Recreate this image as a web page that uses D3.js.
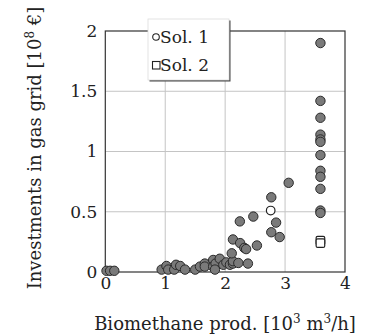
<!DOCTYPE html>
<html>
<head>
<meta charset="utf-8">
<script src="https://cdn.jsdelivr.net/npm/d3@7"></script>
<style>
  body { margin: 0; background: #fff; }
  text { font-family: "DejaVu Serif", "Liberation Serif", serif; fill: #222; }
</style>
</head>
<body>
<script>
// all evaluated configurations (grey dots)
var allX = [0.02, 0.08, 0.15,
            0.94, 1.02, 1.05, 1.15, 1.18, 1.25, 1.33,
            1.50, 1.58, 1.66, 1.66, 1.80, 1.80, 1.84, 1.83, 1.91, 1.97, 2.02, 2.08, 2.13, 2.13, 2.22, 2.38, 2.11,
            2.13, 2.25, 2.32, 2.35, 2.245, 2.47, 2.53, 2.77, 2.85, 2.77, 2.91, 3.06,
            3.59, 3.59, 3.59, 3.59, 3.59, 3.59, 3.59, 3.59, 3.59, 3.59, 3.59, 3.59];
var allY = [0.01, 0.01, 0.01,
            0.02, 0.05, 0.02, 0.02, 0.06, 0.05, 0.02,
            0.02, 0.045, 0.07, 0.045, 0.10, 0.045, 0.07, 0.02, 0.11, 0.06, 0.08, 0.06, 0.07, 0.09, 0.075, 0.07, 0.155,
            0.27, 0.24, 0.20, 0.19, 0.42, 0.46, 0.22, 0.62, 0.41, 0.33, 0.29, 0.74,
            1.90, 1.42, 1.28, 1.14, 1.10, 1.08, 0.97, 0.84, 0.79, 0.69, 0.51, 0.49];
// Sol. 1 and Sol. 2
var sol1X = [2.76], sol1Y = [0.51];
var sol2X = [3.59, 3.59], sol2Y = [0.26, 0.24];

var xTicks = [0, 1, 2, 3, 4];
var yTicks = [0, 0.5, 1, 1.5, 2];
var yTickLabels = ["0", "0.5", "1", "1.5", "2"];
var legendLabels = ["Sol. 1", "Sol. 2"];

var width = 365, height = 336;
var svg = d3.select("body").append("svg")
    .attr("width", width)
    .attr("height", height);

var x = d3.scaleLinear().domain([0, 4]).range([105.3, 345]);
var y = d3.scaleLinear().domain([0, 2]).range([272, 31]);

// grid
svg.append("g").selectAll("line.gx")
    .data(xTicks.slice(1, -1)).enter().append("line")
    .attr("x1", function(d){ return x(d); }).attr("x2", function(d){ return x(d); })
    .attr("y1", y(0)).attr("y2", y(2))
    .style("stroke", "#c4c4c4").style("stroke-width", 1);
svg.append("g").selectAll("line.gy")
    .data(yTicks.slice(1, -1)).enter().append("line")
    .attr("x1", x(0)).attr("x2", x(4))
    .attr("y1", function(d){ return y(d); }).attr("y2", function(d){ return y(d); })
    .style("stroke", "#c4c4c4").style("stroke-width", 1);

// frame
svg.append("rect")
    .attr("x", x(0)).attr("y", y(2))
    .attr("width", x(4) - x(0)).attr("height", y(0) - y(2))
    .style("fill", "none").style("stroke", "#333").style("stroke-width", 1.2);

// axes (labels only)
var yAxis = svg.append("g")
    .attr("transform", "translate(" + (x(0) - 8) + ",0)")
    .call(d3.axisLeft(y).tickValues(yTicks).tickSize(0)
          .tickFormat(function(d, i){ return yTickLabels[i]; }));
yAxis.select(".domain").remove();
yAxis.selectAll("text").attr("x", 0).style("font-size", "17px")
    .style("font-family", "DejaVu Serif").style("fill", "#222");

var xAxis = svg.append("g")
    .attr("transform", "translate(0," + (y(0) + 5) + ")")
    .call(d3.axisBottom(x).tickValues(xTicks).tickSize(0).tickFormat(d3.format("d")));
xAxis.select(".domain").remove();
xAxis.selectAll("text").attr("y", 0).style("font-size", "17px")
    .style("font-family", "DejaVu Serif").style("fill", "#222");

// axis titles
var xt = svg.append("text")
    .attr("x", 225).attr("y", 330)
    .attr("text-anchor", "middle")
    .style("font-size", "18px");
xt.append("tspan").text("Biomethane prod. [10");
xt.append("tspan").attr("dy", -7).style("font-size", "12px").text("3");
xt.append("tspan").attr("dy", 7).text(" m");
xt.append("tspan").attr("dy", -7).style("font-size", "12px").text("3");
xt.append("tspan").attr("dy", 7).text("/h]");

var yt = svg.append("text")
    .attr("transform", "translate(41,148) rotate(-90)")
    .attr("text-anchor", "middle")
    .style("font-size", "18px");
yt.append("tspan").text("Investments in gas grid [10");
yt.append("tspan").attr("dy", -7).style("font-size", "12px").text("8");
yt.append("tspan").attr("dy", 7).text(" \u20ac]");

// points
var pts = allX.map(function(d, i){ return {x: d, y: allY[i]}; });
svg.append("g").selectAll("circle")
    .data(pts).enter().append("circle")
    .attr("cx", function(d){ return x(d.x); })
    .attr("cy", function(d){ return y(d.y); })
    .attr("r", 4.7)
    .style("fill", "#7a7a7a").style("stroke", "#2a2a2a").style("stroke-width", 1);

svg.append("g").selectAll("circle")
    .data(sol1X.map(function(d, i){ return {x: d, y: sol1Y[i]}; })).enter().append("circle")
    .attr("cx", function(d){ return x(d.x); })
    .attr("cy", function(d){ return y(d.y); })
    .attr("r", 4.3)
    .style("fill", "#fff").style("stroke", "#222").style("stroke-width", 1.2);

svg.append("g").selectAll("rect")
    .data(sol2X.map(function(d, i){ return {x: d, y: sol2Y[i]}; })).enter().append("rect")
    .attr("x", function(d){ return x(d.x) - 4.3; })
    .attr("y", function(d){ return y(d.y) - 4.3; })
    .attr("width", 8.6).attr("height", 8.6).attr("rx", 1.5)
    .style("fill", "#fff").style("stroke", "#222").style("stroke-width", 1.2);

// legend
var lg = svg.append("g").attr("transform", "translate(148,19)");
lg.append("rect").attr("x", 1.5).attr("y", 1.5).attr("width", 81).attr("height", 61)
    .style("fill", "#444");
lg.append("rect").attr("width", 81).attr("height", 61)
    .style("fill", "#fff").style("stroke", "#ddd").style("stroke-width", 0.8);
lg.append("circle").attr("cx", 8).attr("cy", 18).attr("r", 3.3)
    .style("fill", "#fff").style("stroke", "#222").style("stroke-width", 1.1);
lg.append("rect").attr("x", 4.5).attr("y", 42.5).attr("width", 7.5).attr("height", 7.5)
    .style("fill", "#fff").style("stroke", "#222").style("stroke-width", 1.1);
lg.selectAll("text.lab").data(legendLabels).enter().append("text")
    .attr("x", 12).attr("y", function(d, i){ return 24 + i * 28; })
    .style("font-size", "17px")
    .text(function(d){ return d; });
</script>
</body>
</html>
